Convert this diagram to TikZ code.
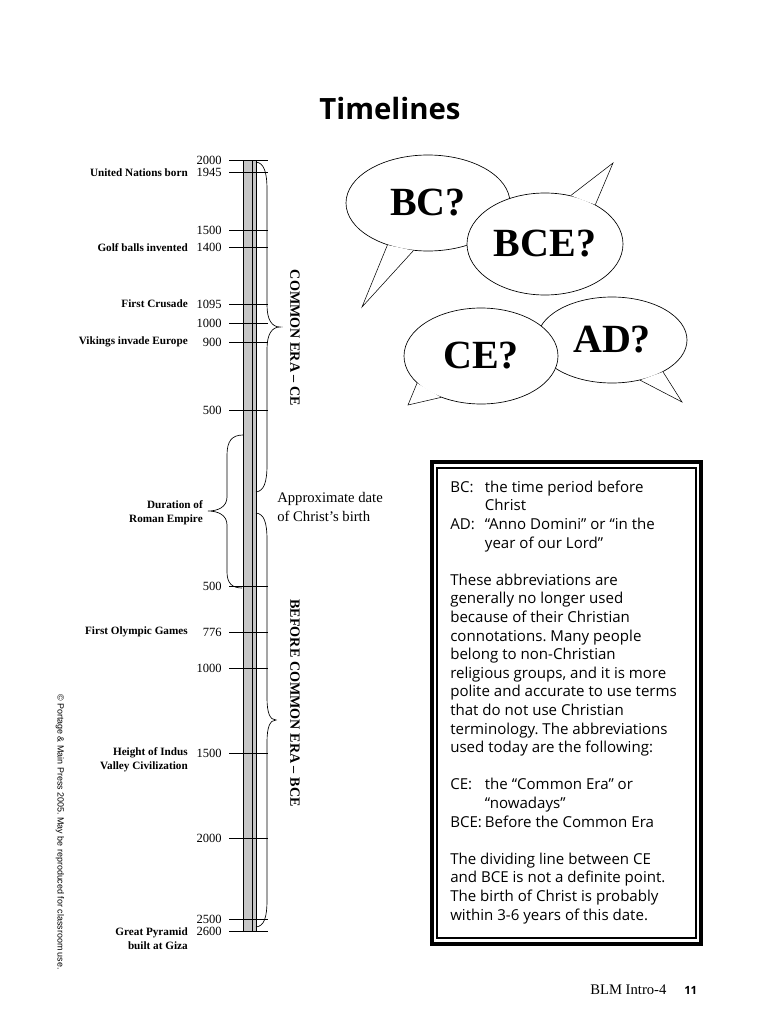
\documentclass[tikz,border=0pt]{standalone}
\usepackage{fontspec}
\setmainfont{Liberation Serif}
\newfontfamily\boxfont{Open Sans}
\newfontfamily\smallsans{Liberation Sans}
\usepackage{xcolor}
\definecolor{bargray}{RGB}{198, 198, 198}
\usetikzlibrary{shapes.geometric}
\frenchspacing

\tikzset{
  year/.style={anchor=east, inner sep=0pt, font=\fontsize{9.4}{11}\selectfont},
  event/.style={anchor=east, inner sep=0pt, align=right, font=\bfseries\fontsize{8.4}{10.5}\selectfont},
  era/.style={rotate=-90, inner sep=0pt, font=\bfseries\fontsize{10.6}{12}\selectfont},
  bubble/.style={ellipse, draw=black, line width=0.5pt, fill=white, inner sep=0pt, font=\bfseries\fontsize{30}{36}\selectfont},
  ticky/.style={line width=0.6pt}
}

\begin{document}
\begin{tikzpicture}[x=0.75pt, y=-0.75pt]
    \useasboundingbox (0,0) rectangle (770,1024);

    \node[font=\boxfont\bfseries\fontsize{22}{26}\selectfont] (title) at (390,108) {Timelines};

    % timeline bar
    \filldraw[fill=bargray, line width=0.6pt] (243,160) rectangle (256,931);
    \draw[line width=0.4pt] (252,160) -- (252,931);

    \foreach \yr/\ypos/\nm in {2000/160/a, 1945/172.7/b, 1500/230/c, 1400/247.7/d,
        1095/304/e, 1000/323/f, 900/342/g, 500/410.7/h, 500/586.7/i, 776/632.3/j,
        1000/668.3/k, 1500/753.3/l, 2000/838/m, 2500/919.3/n, 2600/931/o}{
        \draw[ticky] (229,\ypos) -- (268,\ypos);
        \node[year] (yr-\nm) at (222,\ypos) {\yr};
    }

    \node[event] (un) at (188,172.7) {United Nations born};
    \node[event] (golf) at (188,247.7) {Golf balls invented};
    \node[event] (crusade) at (188,304) {First Crusade};
    \node[event] (vikings) at (188,342) {Vikings invade Europe};
    \node[event] (roman) at (203,513) {Duration of\\Roman Empire};
    \node[event] (olympic) at (188,632.3) {First Olympic Games};
    \node[event] (indus) at (188,760) {Height of Indus\\Valley Civilization};
    \node[event] (pyramid) at (188,938.5) {Great Pyramid\\built at Giza};

    % braces
    \draw[line width=0.5pt] (256,162) .. controls (264,163) and (267,172) .. (267,190) -- (267,305)
        .. controls (267,320) and (272,327) .. (280,327) .. controls (272,327) and (267,334) .. (267,349)
        -- (267,465) .. controls (267,482) and (264,491) .. (256,492);
    \draw[line width=0.5pt] (256,513) .. controls (264,514) and (267,522) .. (267,540) -- (267,698)
        .. controls (267,713) and (270,720) .. (276,720) .. controls (270,720) and (267,727) .. (267,742)
        -- (267,900) .. controls (267,918) and (264,926) .. (256,927);
    \draw[line width=0.5pt] (243,435) .. controls (232,435) and (227,441) .. (227,455) -- (227,497)
        .. controls (227,507) and (218,511) .. (208,511) .. controls (218,511) and (227,515) .. (227,525)
        -- (227,572) .. controls (227,583) and (232,588) .. (242,588);

    \node[era] (ce-era) at (295,338) {COMMON ERA -- CE};
    \node[era] (bce-era) at (295,703) {BEFORE COMMON ERA -- BCE};
    \node[anchor=west, align=left, inner sep=0pt, font=\fontsize{11}{14.25}\selectfont] (christ)
        at (277,506.5) {Approximate date\\of Christ’s birth};

    % speech bubbles
    \node[bubble, minimum width=123pt, minimum height=72pt] (bc) at (428,203) {BC?};
    \fill[white] (bc.226) -- (362,307) -- (bc.253) -- cycle;
    \draw (bc.226) -- (362,307) -- (bc.253);
    \node[bubble, minimum width=117pt, minimum height=76.5pt] (bce) at (545,244) {BCE?};
    \fill[white] (bce.62) -- (613,163) -- (bce.38) -- cycle;
    \draw (bce.62) -- (613,163) -- (bce.38);
    \node[bubble, minimum width=112.5pt, minimum height=64.5pt] (ad) at (612,340) {AD?};
    \fill[white] (ad.305) -- (682,402) -- (ad.328) -- cycle;
    \draw (ad.305) -- (682,402) -- (ad.328);
    \node[bubble, minimum width=115.5pt, minimum height=72pt] (ce) at (481,356) {CE?};
    \fill[white] (ce.203) -- (408,405) -- (ce.226) -- cycle;
    \draw (ce.203) -- (408,405) -- (ce.226);

    % definitions box
    \draw[line width=3pt] (432,462) rectangle (701,944);
    \draw[line width=0.8pt] (437,468) rectangle (696,938);
    \node[
      anchor=north west,
      inner sep=0pt,
      align=left,
      font=\boxfont\fontsize{11.3}{13.95}\selectfont
    ] (defs) at (450,480.5) {%
      \makebox[26pt][l]{BC:}the time period before\\
      \hspace*{26pt}Christ\\
      \makebox[26pt][l]{AD:}“Anno Domini” or “in the\\
      \hspace*{26pt}year of our Lord”\\[13.95pt]
      These abbreviations are\\
      generally no longer used\\
      because of their Christian\\
      connotations. Many people\\
      belong to non-Christian\\
      religious groups, and it is more\\
      polite and accurate to use terms\\
      that do not use Christian\\
      terminology. The abbreviations\\
      used today are the following:\\[13.95pt]
      \makebox[26pt][l]{CE:}the “Common Era” or\\
      \hspace*{26pt}“nowadays”\\
      \makebox[26pt][l]{BCE:}Before the Common Era\\[13.95pt]
      The dividing line between CE\\
      and BCE is not a definite point.\\
      The birth of Christ is probably\\
      within 3-6 years of this date.%
    };

    \node[rotate=-90, inner sep=0pt, font=\smallsans\fontsize{6.7}{8}\selectfont] (copy) at (60,832)
        {\textcopyright{} Portage \& Main Press 2005. May be reproduced for classroom use.};
    \node[anchor=west, inner sep=0pt, font=\fontsize{11}{13}\selectfont] (blm) at (590,990) {BLM Intro-4};
    \node[anchor=west, inner sep=0pt, font=\boxfont\bfseries\fontsize{8.5}{10}\selectfont] (page) at (684,990) {11};
\end{tikzpicture}
\end{document}
